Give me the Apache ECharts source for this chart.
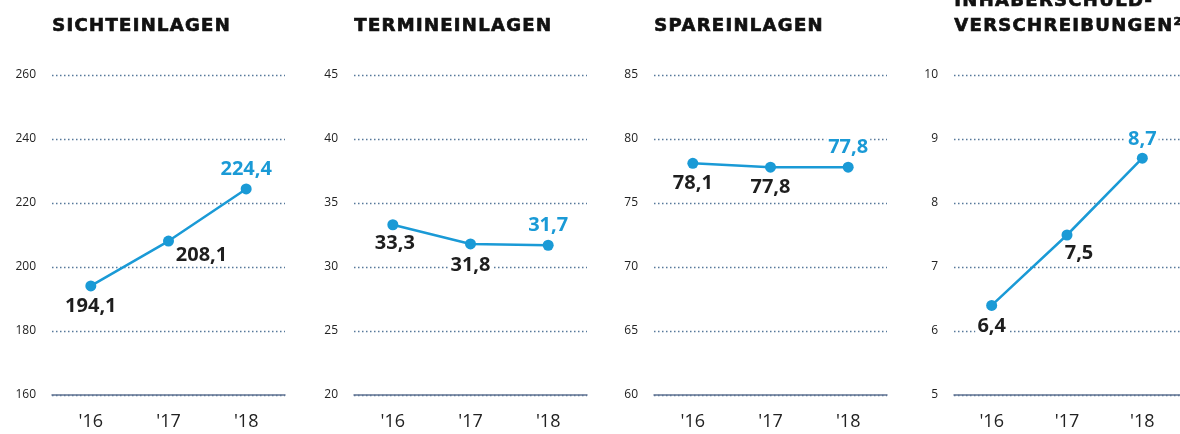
<!DOCTYPE html>
<html><head><meta charset="utf-8">
<script src="https://cdn.jsdelivr.net/npm/echarts@6/dist/echarts.min.js"></script>
<style>html,body{margin:0;padding:0;background:#fff}#c{width:1180px;height:434px}</style>
</head><body><div id="c"></div>
<script>
const categories = ["'16", "'17", "'18"];
const titles = ["SICHTEINLAGEN", "TERMINEINLAGEN", "SPAREINLAGEN", "INHABERSCHULD-\nVERSCHREIBUNGEN²"];
const sichteinlagen = [194.1, 208.1, 224.4];
const termineinlagen = [33.3, 31.8, 31.7];
const spareinlagen = [78.1, 77.8, 77.8];
const inhaberschuldverschreibungen = [6.4, 7.5, 8.7];
const yMin = [160, 20, 60, 5];
const yMax = [260, 45, 85, 10];
const yStep = [20, 5, 5, 1];
const seriesValues = [sichteinlagen, termineinlagen, spareinlagen, inhaberschuldverschreibungen];

// letter spacing: headings get extra tracking, everything else explicitly 0px
(function () {
  const titleLines = new Set();
  titles.forEach(t => t.split('\n').forEach(l => titleLines.add(l)));
  const P = CanvasRenderingContext2D.prototype;
  function wrap(orig) {
    return function (t, x, y, m) {
      const want = titleLines.has(t) ? '1.3px' : '0px';
      if (this.letterSpacing !== want) {
        const fnt = this.font;
        this.letterSpacing = want;
        this.font = fnt;
      }
      return m === undefined ? orig.call(this, t, x, y) : orig.call(this, t, x, y, m);
    };
  }
  P.fillText = wrap(P.fillText);
  P.strokeText = wrap(P.strokeText);
})();

const lefts = [52, 354, 654, 954];
const gridW = 233;
const blue = '#1a9ad6';
const dark = '#1e1e1e';
// label offsets per panel / point (layout only)
const labelOffsets = [
  [[0, 20], [33, 14], [0, -20]],
  [[2, 19], [0, 21], [0, -20]],
  [[0, 20], [0, 20], [0, -20]],
  [[0, 21], [12, 18], [0, -19]]
];

const fmt = v => v.toFixed(1).replace('.', ',');

const chart = echarts.init(document.getElementById('c'), null, {renderer: 'canvas'});
const grids = [], xAxes = [], yAxes = [], series = [], graphics = [];
for (let i = 0; i < 4; i++) {
  grids.push({left: lefts[i], width: gridW, top: 75, height: 320});
  xAxes.push({
    type: 'category', gridIndex: i, data: categories, boundaryGap: true,
    axisLine: {show: true, lineStyle: {color: '#5f7291', width: 1.5}},
    axisTick: {show: false},
    axisLabel: {color: '#222', fontSize: 18, fontFamily: 'Open Sans', margin: 18}
  });
  yAxes.push({
    type: 'value', gridIndex: i, min: yMin[i], max: yMax[i], interval: yStep[i],
    axisLine: {show: false}, axisTick: {show: false},
    axisLabel: {color: '#222', fontSize: 12, fontFamily: 'Open Sans', margin: 16},
    splitLine: {show: true, lineStyle: {color: '#56789a', type: [1.5, 2.5], width: 1.3}}
  });
  series.push({
    type: 'line', xAxisIndex: i, yAxisIndex: i,
    data: seriesValues[i].map((v, j) => ({
      value: v,
      label: {
        show: true, position: 'inside', offset: labelOffsets[i][j],
        formatter: () => fmt(v),
        color: j === 2 ? blue : dark,
        fontSize: 20, fontWeight: 'bold', fontFamily: 'Open Sans',
        backgroundColor: '#fff', padding: [0, 2]
      }
    })),
    symbol: 'circle', symbolSize: 11,
    itemStyle: {color: blue},
    lineStyle: {color: blue, width: 2.5},
    animation: false
  });
  graphics.push({
    type: 'text', left: lefts[i], top: i === 3 ? -11 : 14,
    style: {
      text: titles[i], fill: '#111', stroke: '#111', lineWidth: 0.7,
      fontFamily: 'DejaVu Sans', fontWeight: 'bold', fontSize: 18, lineHeight: 25
    }
  });
}
chart.setOption({
  animation: false,
  grid: grids, xAxis: xAxes, yAxis: yAxes, series: series, graphic: graphics
});
</script></body></html>
